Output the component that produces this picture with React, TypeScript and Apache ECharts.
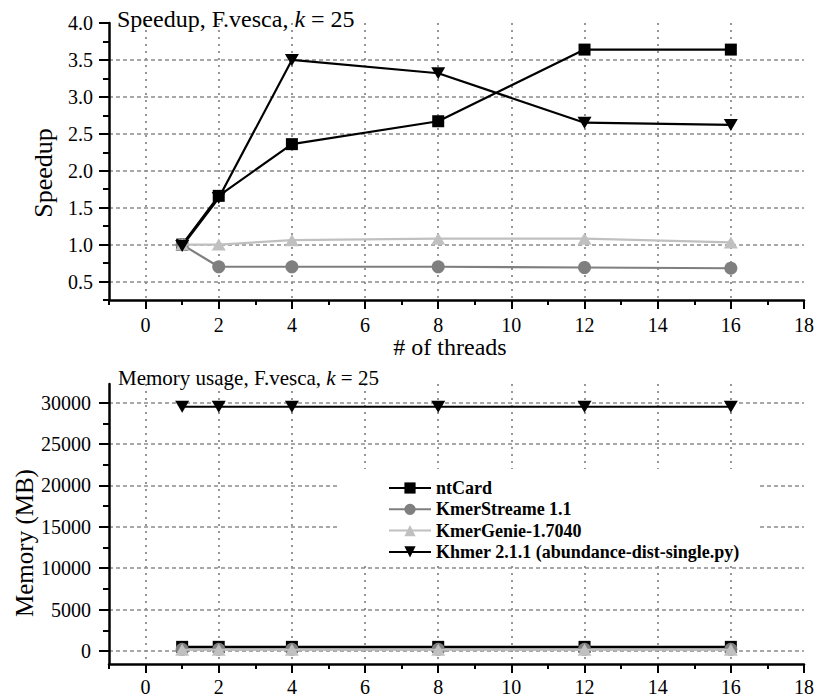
import React, { useEffect, useRef } from 'react';
import * as echarts from 'echarts';

const threads = [1, 2, 4, 8, 12, 16];
const seriesNames = ['ntCard', 'KmerStreame 1.1', 'KmerGenie-1.7040', 'Khmer 2.1.1 (abundance-dist-single.py)'];

const speedupNtCard = [1.0, 1.66, 2.36, 2.67, 3.64, 3.64];
const speedupKmerStream = [1.0, 0.7, 0.7, 0.7, 0.69, 0.68];
const speedupKmerGenie = [1.0, 1.0, 1.06, 1.08, 1.08, 1.03];
const speedupKhmer = [0.98, 1.63, 3.5, 3.32, 2.65, 2.62];

const memNtCard = [500, 500, 500, 500, 500, 500];
const memKmerStream = [200, 200, 200, 200, 200, 200];
const memKmerGenie = [150, 150, 150, 150, 150, 150];
const memKhmer = [29500, 29500, 29500, 29500, 29500, 29500];

const xTicks = [0, 2, 4, 6, 8, 10, 12, 14, 16, 18];
const speedupTicks = [0.5, 1.0, 1.5, 2.0, 2.5, 3.0, 3.5, 4.0];
const memTicks = [0, 5000, 10000, 15000, 20000, 25000, 30000];
const memMinorTicks = [2500, 7500, 12500, 17500, 22500, 27500];

const FONT = 'Liberation Serif, Times New Roman, serif';

const colors = ['#000000', '#7f7f7f', '#c0c0c0', '#000000'];
const symbols = ['rect', 'circle', 'triangle', 'path://M0,0L10,0L5,9Z'];
const symbolSizes: any[] = [12, 13, [14, 12], [14, 12]];

const speedupData = [speedupNtCard, speedupKmerStream, speedupKmerGenie, speedupKhmer];
const memData = [memNtCard, memKmerStream, memKmerGenie, memKhmer];

function majorX(gridIndex: number, margin: number) {
  return {
    type: 'value', gridIndex, position: 'bottom', min: -1, max: 18,
    axisLine: { show: true, onZero: false, lineStyle: { color: '#000', width: 2.5 } },
    axisTick: { show: true, customValues: xTicks, length: 9, lineStyle: { color: '#000', width: 2 } },
    axisLabel: { show: true, customValues: xTicks, margin, fontSize: 20, fontFamily: FONT, color: '#000', formatter: (v: number) => String(v) },
    splitLine: { show: true, showMaxLine: false, lineStyle: { color: '#8c8c8c', width: 1.8, type: [2, 5] } },
  };
}
function minorX(gridIndex: number) {
  return {
    type: 'value', gridIndex, position: 'bottom', min: -1, max: 18, interval: 1,
    axisLine: { show: false, onZero: false },
    axisTick: { show: true, length: 5, lineStyle: { color: '#000', width: 2 } },
    axisLabel: { show: false },
    splitLine: { show: false },
  };
}

export default function App() {
  const ref = useRef<HTMLDivElement>(null);
  useEffect(() => {
    if (!ref.current) return;
    const chart = echarts.init(ref.current, undefined, { renderer: 'svg' });
    const series: any[] = [];
    seriesNames.forEach((name, k) => {
      series.push({
        name, type: 'line', xAxisIndex: 0, yAxisIndex: 0,
        data: threads.map((t, i) => [t, speedupData[k][i]]),
        symbol: symbols[k], symbolSize: symbolSizes[k], showAllSymbol: true,
        lineStyle: { color: colors[k], width: 2.2 }, itemStyle: { color: colors[k] },
        emphasis: { disabled: true }, z: 3 + k,
      });
    });
    seriesNames.forEach((name, k) => {
      series.push({
        name, type: 'line', xAxisIndex: 2, yAxisIndex: 2,
        data: threads.map((t, i) => [t, memData[k][i]]),
        symbol: symbols[k], symbolSize: symbolSizes[k], showAllSymbol: true,
        lineStyle: { color: colors[k], width: 2.2 }, itemStyle: { color: colors[k] },
        emphasis: { disabled: true }, z: 3 + k,
      });
    });
    const option: any = {
      animation: false,
      backgroundColor: '#fff',
      title: [
        {
          text: 'Speedup, F.vesca, {i|k} = 25', left: 117, top: 7, padding: 0,
          textStyle: { fontSize: 24, fontFamily: FONT, fontWeight: 'normal', color: '#000',
            rich: { i: { fontStyle: 'italic', fontSize: 24, fontFamily: FONT, color: '#000' } } },
        },
        {
          text: 'Memory usage, F.vesca, {i|k} = 25', left: 118, top: 367, padding: 0,
          textStyle: { fontSize: 21, fontFamily: FONT, fontWeight: 'normal', color: '#000',
            rich: { i: { fontStyle: 'italic', fontSize: 21, fontFamily: FONT, color: '#000' } } },
        },
      ],
      legend: {
        orient: 'vertical', left: 338, top: 469,
        padding: [10, 20, 5, 50],
        backgroundColor: '#fff',
        itemWidth: 42, itemHeight: 14, itemGap: 3.3,
        selectedMode: false,
        data: seriesNames,
        textStyle: { fontFamily: FONT, fontWeight: 'bold', fontSize: 18, lineHeight: 18, color: '#000' },
      },
      grid: [
        { left: 109, right: 11, top: 23, height: 277, containLabel: false, outerBoundsMode: 'none' },
        { left: 109, right: 11, top: 384, height: 280, containLabel: false, outerBoundsMode: 'none' },
      ],
      xAxis: [majorX(0, 15), minorX(0), majorX(1, 13), minorX(1)],
      yAxis: [
        {
          type: 'value', gridIndex: 0, position: 'left', min: 0.25, max: 4.0,
          axisLine: { show: true, onZero: false, lineStyle: { color: '#000', width: 2.5 } },
          axisTick: { show: true, customValues: speedupTicks, length: 10, lineStyle: { color: '#000', width: 2 } },
          axisLabel: { show: true, customValues: speedupTicks, margin: 16, fontSize: 20, fontFamily: FONT, color: '#000', formatter: (v: number) => v.toFixed(1) },
          splitLine: { show: true, showMaxLine: false, lineStyle: { color: '#8c8c8c', width: 1.6, type: [4, 3] } },
        },
        {
          type: 'value', gridIndex: 0, position: 'left', min: 0.25, max: 4.0, interval: 0.25,
          axisLine: { show: false, onZero: false },
          axisTick: { show: true, length: 6, lineStyle: { color: '#000', width: 2 } },
          axisLabel: { show: false }, splitLine: { show: false },
        },
        {
          type: 'value', gridIndex: 1, position: 'left', min: -1570, max: 32250,
          axisLine: { show: true, onZero: false, lineStyle: { color: '#000', width: 2.5 } },
          axisTick: { show: true, customValues: memTicks, length: 10, lineStyle: { color: '#000', width: 2 } },
          axisLabel: { show: true, customValues: memTicks, margin: 18, fontSize: 20, fontFamily: FONT, color: '#000', formatter: (v: number) => String(v) },
          splitLine: { show: true, lineStyle: { color: '#8c8c8c', width: 1.6, type: [4, 3] } },
        },
        {
          type: 'value', gridIndex: 1, position: 'left', min: -1570, max: 32250,
          axisLine: { show: false, onZero: false },
          axisTick: { show: true, customValues: memMinorTicks, length: 6, lineStyle: { color: '#000', width: 2 } },
          axisLabel: { show: false }, splitLine: { show: false },
        },
      ],
      graphic: [
        { type: 'text', x: 43, y: 173, rotation: Math.PI / 2,
          style: { text: 'Speedup', fill: '#000', font: '26px "Liberation Serif", serif', align: 'center', verticalAlign: 'middle', textAlign: 'center', textVerticalAlign: 'middle' } },
        { type: 'text', x: 24, y: 543, rotation: Math.PI / 2,
          style: { text: 'Memory (MB)', fill: '#000', font: '25px "Liberation Serif", serif', align: 'center', verticalAlign: 'middle', textAlign: 'center', textVerticalAlign: 'middle' } },
        { type: 'text', x: 450, y: 347,
          style: { text: '# of threads', fill: '#000', font: '24px "Liberation Serif", serif', align: 'center', verticalAlign: 'middle', textAlign: 'center', textVerticalAlign: 'middle' } },
      ],
      series,
    };
    chart.setOption(option);
    return () => chart.dispose();
  }, []);
  return <div ref={ref} style={{ position: 'fixed', left: 0, top: 0, width: 815, height: 698 }} />;
}
